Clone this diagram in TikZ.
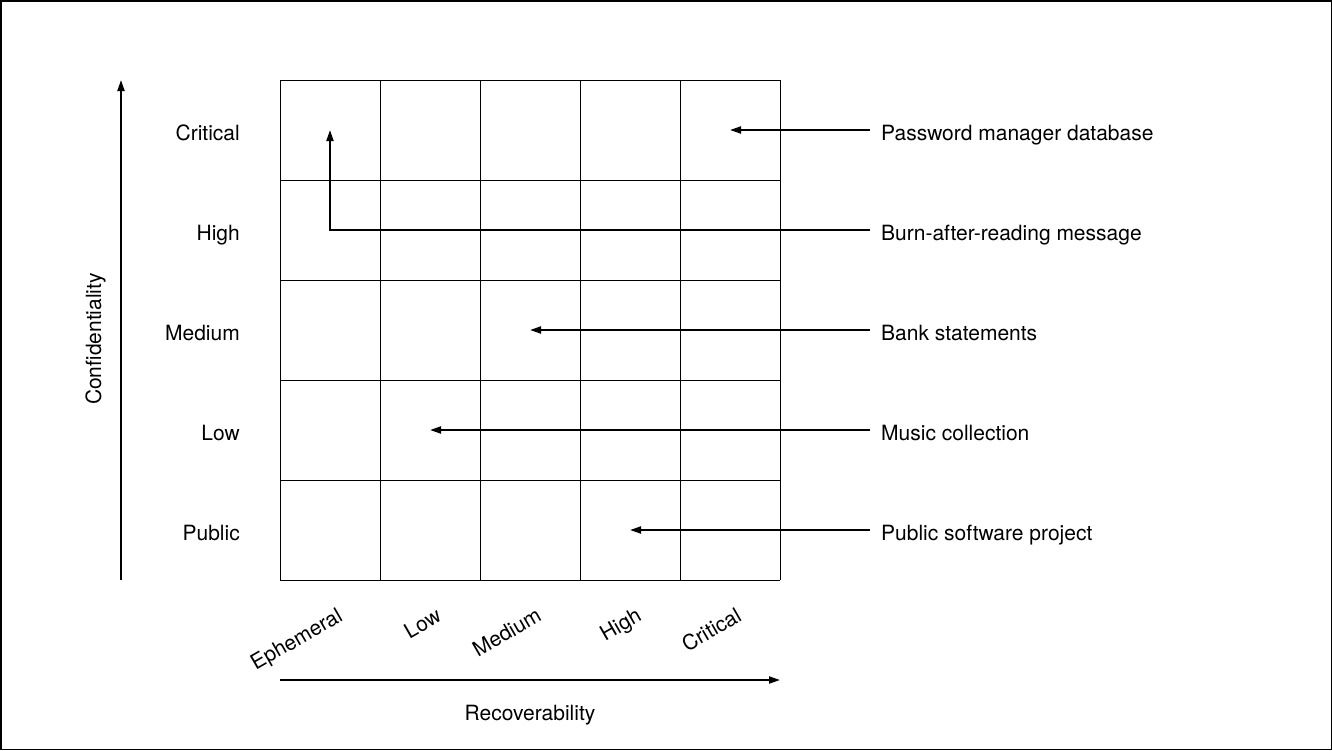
\documentclass[tikz,border=0pt]{standalone}
\usepackage{fontspec}
\setmainfont{TeX Gyre Heros}
\usetikzlibrary{arrows.meta}
\begin{document}
\begin{tikzpicture}[x=1pt,y=-1pt,
  lbl/.style={inner sep=0pt,font=\fontsize{21}{25}\selectfont},
  gridline/.style={line width=1pt},
  arr/.style={line width=2pt,-{Triangle[length=11pt,width=7pt]}},
  frame/.style={line width=1.5pt}]
\useasboundingbox (0,0) rectangle (1332,750);
\draw[frame] (0.75,0.75) rectangle (1331.25,749.25);
% grid
\foreach \i in {0,...,5} {
  \draw[gridline] (280+100*\i,80) -- (280+100*\i,580);
  \draw[gridline] (280,80+100*\i) -- (780,80+100*\i);
}
% vertical axis
\coordinate (va0) at (121,580);
\coordinate (va1) at (121,80);
\draw[arr] (va0) -- (va1);
\node[lbl,rotate=90,anchor=base] (conf) at (101,339) {Confidentiality};
% row labels
\node[lbl,anchor=base east] (rc) at (240,140) {Critical};
\node[lbl,anchor=base east] (rh) at (240,240) {High};
\node[lbl,anchor=base east] (rm) at (240,340) {Medium};
\node[lbl,anchor=base east] (rl) at (240,440) {Low};
\node[lbl,anchor=base east] (rp) at (240,540) {Public};
% horizontal axis
\coordinate (ha0) at (280,680);
\coordinate (ha1) at (780,680);
\draw[arr] (ha0) -- (ha1);
\node[lbl,anchor=base] (rec) at (530,720) {Recoverability};
% column labels
\node[lbl,rotate=30,anchor=base east] (ce) at (344,620) {Ephemeral};
\node[lbl,rotate=30,anchor=base east] (cl) at (443,620) {Low};
\node[lbl,rotate=30,anchor=base east] (cm) at (543,620) {Medium};
\node[lbl,rotate=30,anchor=base east] (chh) at (643,620) {High};
\node[lbl,rotate=30,anchor=base east] (cc) at (743,620) {Critical};
% item labels
\node[lbl,anchor=base west] (pm) at (881,140) {Password manager database};
\node[lbl,anchor=base west] (ba) at (881,240) {Burn-after-reading message};
\node[lbl,anchor=base west] (bs) at (881,340) {Bank statements};
\node[lbl,anchor=base west] (mc) at (881,440) {Music collection};
\node[lbl,anchor=base west] (ps) at (881,540) {Public software project};
% arrows
\coordinate (pmS) at (870,130); \coordinate (pmT) at (730,130);
\coordinate (baS) at (870,230); \coordinate (baM) at (330,230); \coordinate (baT) at (330,130);
\coordinate (bsS) at (870,330); \coordinate (bsT) at (530,330);
\coordinate (mcS) at (870,430); \coordinate (mcT) at (430,430);
\coordinate (psS) at (870,530); \coordinate (psT) at (630,530);
\draw[arr] (pmS) -- (pmT);
\draw[arr] (baS) -- (baM) -- (baT);
\draw[arr] (bsS) -- (bsT);
\draw[arr] (mcS) -- (mcT);
\draw[arr] (psS) -- (psT);
\end{tikzpicture}
\end{document}
